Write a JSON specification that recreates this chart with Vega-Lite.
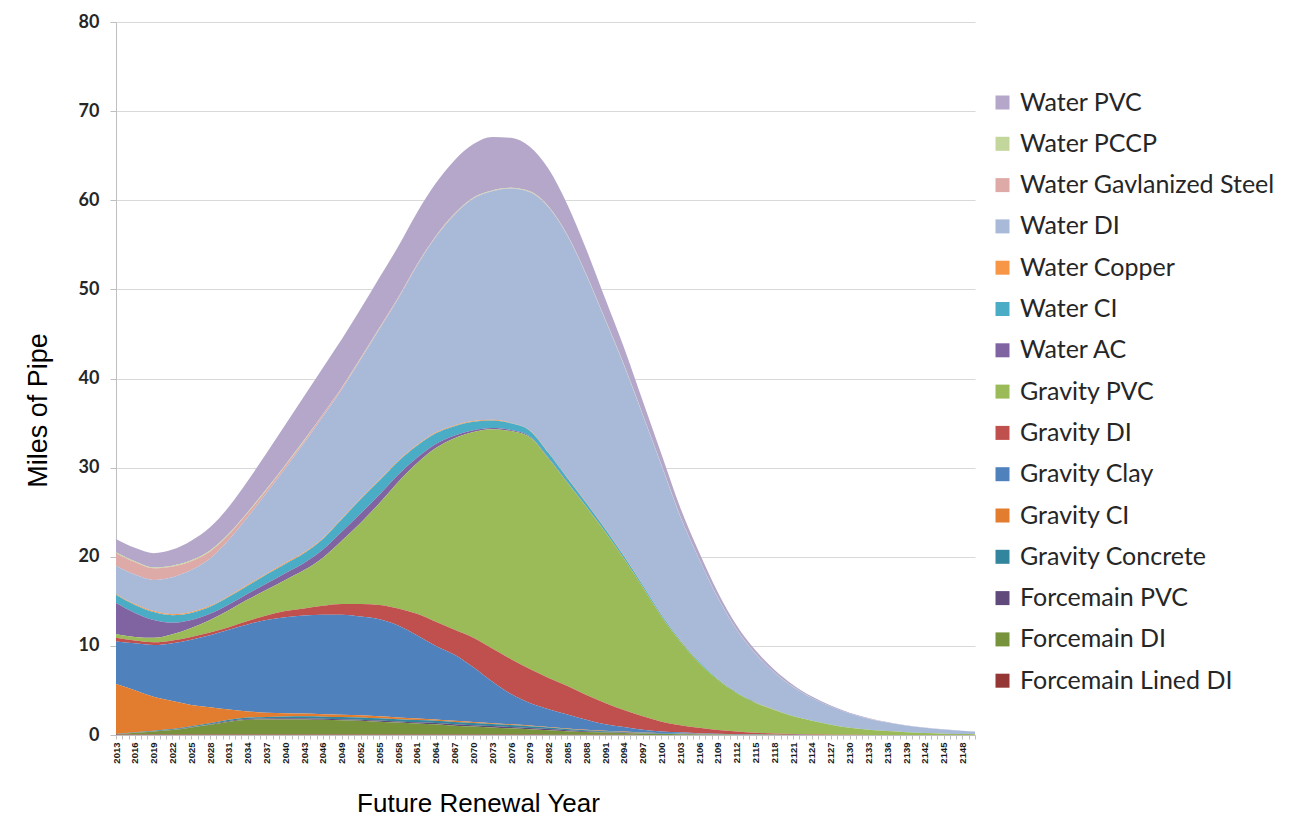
{
  "$schema": "https://vega.github.io/schema/vega-lite/v6.json",
  "width": 859,
  "height": 713,
  "autosize": "none",
  "padding": {"left": 116, "top": 22, "right": 324, "bottom": 90},
  "background": "white",
  "config": {"view": {"stroke": null}},
  "datasets": {
    "order": [
      {"series": "Forcemain Lined DI", "rank": 1},
      {"series": "Forcemain DI", "rank": 2},
      {"series": "Forcemain PVC", "rank": 3},
      {"series": "Gravity Concrete", "rank": 4},
      {"series": "Gravity CI", "rank": 5},
      {"series": "Gravity Clay", "rank": 6},
      {"series": "Gravity DI", "rank": 7},
      {"series": "Gravity PVC", "rank": 8},
      {"series": "Water AC", "rank": 9},
      {"series": "Water CI", "rank": 10},
      {"series": "Water Copper", "rank": 11},
      {"series": "Water DI", "rank": 12},
      {"series": "Water Gavlanized Steel", "rank": 13},
      {"series": "Water PCCP", "rank": 14},
      {"series": "Water PVC", "rank": 15}
    ]
  },
  "data": {"values": [
    {"year":2013,"Water PVC":1.5,"Water PCCP":0.1,"Water Gavlanized Steel":1.4,"Water DI":3.2,"Water Copper":0.1,"Water CI":0.9,"Water AC":3.5,"Gravity PVC":0.4,"Gravity DI":0.4,"Gravity Clay":4.78,"Gravity CI":5.6,"Gravity Concrete":0.05,"Forcemain PVC":0.02,"Forcemain DI":0,"Forcemain Lined DI":0.05},
    {"year":2016,"Water PVC":1.5,"Water PCCP":0.1,"Water Gavlanized Steel":1.4,"Water DI":3.3,"Water Copper":0.1,"Water CI":0.9,"Water AC":2.7,"Gravity PVC":0.4,"Gravity DI":0.3,"Gravity Clay":5.28,"Gravity CI":4.7,"Gravity Concrete":0.05,"Forcemain PVC":0.02,"Forcemain DI":0.2,"Forcemain Lined DI":0.05},
    {"year":2019,"Water PVC":1.6,"Water PCCP":0.1,"Water Gavlanized Steel":1.3,"Water DI":3.5,"Water Copper":0.1,"Water CI":0.9,"Water AC":2.0,"Gravity PVC":0.5,"Gravity DI":0.3,"Gravity Clay":5.81,"Gravity CI":3.8,"Gravity Concrete":0.06,"Forcemain PVC":0.03,"Forcemain DI":0.35,"Forcemain Lined DI":0.05},
    {"year":2022,"Water PVC":1.8,"Water PCCP":0.1,"Water Gavlanized Steel":1.2,"Water DI":4.15,"Water Copper":0.1,"Water CI":0.85,"Water AC":1.3,"Gravity PVC":0.7,"Gravity DI":0.3,"Gravity Clay":6.49,"Gravity CI":3.15,"Gravity Concrete":0.07,"Forcemain PVC":0.04,"Forcemain DI":0.5,"Forcemain Lined DI":0.05},
    {"year":2025,"Water PVC":2.2,"Water PCCP":0.1,"Water Gavlanized Steel":1.0,"Water DI":4.7,"Water Copper":0.1,"Water CI":0.8,"Water AC":0.9,"Gravity PVC":1.0,"Gravity DI":0.3,"Gravity Clay":7.32,"Gravity CI":2.4,"Gravity Concrete":0.08,"Forcemain PVC":0.05,"Forcemain DI":0.8,"Forcemain Lined DI":0.05},
    {"year":2028,"Water PVC":2.6,"Water PCCP":0.1,"Water Gavlanized Steel":0.8,"Water DI":5.3,"Water Copper":0.1,"Water CI":0.8,"Water AC":0.7,"Gravity PVC":1.4,"Gravity DI":0.3,"Gravity Clay":8.09,"Gravity CI":1.8,"Gravity Concrete":0.1,"Forcemain PVC":0.06,"Forcemain DI":1.1,"Forcemain Lined DI":0.05},
    {"year":2031,"Water PVC":3.0,"Water PCCP":0.1,"Water Gavlanized Steel":0.6,"Water DI":6.3,"Water Copper":0.1,"Water CI":0.85,"Water AC":0.65,"Gravity PVC":1.9,"Gravity DI":0.3,"Gravity Clay":8.95,"Gravity CI":1.15,"Gravity Concrete":0.12,"Forcemain PVC":0.08,"Forcemain DI":1.45,"Forcemain Lined DI":0.05},
    {"year":2034,"Water PVC":3.5,"Water PCCP":0.1,"Water Gavlanized Steel":0.45,"Water DI":7.6,"Water Copper":0.1,"Water CI":0.9,"Water AC":0.65,"Gravity PVC":2.4,"Gravity DI":0.4,"Gravity Clay":9.75,"Gravity CI":0.7,"Gravity Concrete":0.15,"Forcemain PVC":0.1,"Forcemain DI":1.65,"Forcemain Lined DI":0.05},
    {"year":2037,"Water PVC":4.0,"Water PCCP":0.1,"Water Gavlanized Steel":0.35,"Water DI":9.05,"Water Copper":0.1,"Water CI":1.0,"Water AC":0.7,"Gravity PVC":2.9,"Gravity DI":0.5,"Gravity Clay":10.4,"Gravity CI":0.47,"Gravity Concrete":0.18,"Forcemain PVC":0.1,"Forcemain DI":1.7,"Forcemain Lined DI":0.05},
    {"year":2040,"Water PVC":4.5,"Water PCCP":0.1,"Water Gavlanized Steel":0.3,"Water DI":10.6,"Water Copper":0.1,"Water CI":1.05,"Water AC":0.75,"Gravity PVC":3.5,"Gravity DI":0.7,"Gravity Clay":10.75,"Gravity CI":0.38,"Gravity Concrete":0.2,"Forcemain PVC":0.12,"Forcemain DI":1.7,"Forcemain Lined DI":0.05},
    {"year":2043,"Water PVC":4.9,"Water PCCP":0.1,"Water Gavlanized Steel":0.25,"Water DI":12.25,"Water Copper":0.1,"Water CI":1.1,"Water AC":0.8,"Gravity PVC":4.3,"Gravity DI":0.8,"Gravity Clay":11.0,"Gravity CI":0.31,"Gravity Concrete":0.22,"Forcemain PVC":0.12,"Forcemain DI":1.7,"Forcemain Lined DI":0.05},
    {"year":2046,"Water PVC":5.2,"Water PCCP":0.05,"Water Gavlanized Steel":0.2,"Water DI":13.67,"Water Copper":0.08,"Water CI":1.2,"Water AC":0.9,"Gravity PVC":5.4,"Gravity DI":1.0,"Gravity Clay":11.16,"Gravity CI":0.28,"Gravity Concrete":0.24,"Forcemain PVC":0.12,"Forcemain DI":1.65,"Forcemain Lined DI":0.05},
    {"year":2049,"Water PVC":5.4,"Water PCCP":0.05,"Water Gavlanized Steel":0.18,"Water DI":14.49,"Water Copper":0.08,"Water CI":1.4,"Water AC":1.0,"Gravity PVC":7.1,"Gravity DI":1.2,"Gravity Clay":11.22,"Gravity CI":0.26,"Gravity Concrete":0.25,"Forcemain PVC":0.12,"Forcemain DI":1.6,"Forcemain Lined DI":0.05},
    {"year":2052,"Water PVC":5.5,"Water PCCP":0.05,"Water Gavlanized Steel":0.15,"Water DI":15.57,"Water Copper":0.08,"Water CI":1.6,"Water AC":1.05,"Gravity PVC":9.1,"Gravity DI":1.4,"Gravity Clay":11.09,"Gravity CI":0.24,"Gravity Concrete":0.25,"Forcemain PVC":0.12,"Forcemain DI":1.55,"Forcemain Lined DI":0.05},
    {"year":2055,"Water PVC":5.6,"Water PCCP":0.05,"Water Gavlanized Steel":0.12,"Water DI":16.9,"Water Copper":0.08,"Water CI":1.6,"Water AC":0.95,"Gravity PVC":11.4,"Gravity DI":1.6,"Gravity Clay":10.91,"Gravity CI":0.22,"Gravity Concrete":0.25,"Forcemain PVC":0.12,"Forcemain DI":1.45,"Forcemain Lined DI":0.05},
    {"year":2058,"Water PVC":5.7,"Water PCCP":0.05,"Water Gavlanized Steel":0.1,"Water DI":18.17,"Water Copper":0.08,"Water CI":1.5,"Water AC":0.8,"Gravity PVC":14.2,"Gravity DI":1.9,"Gravity Clay":10.33,"Gravity CI":0.2,"Gravity Concrete":0.25,"Forcemain PVC":0.12,"Forcemain DI":1.35,"Forcemain Lined DI":0.05},
    {"year":2061,"Water PVC":5.8,"Water PCCP":0.05,"Water Gavlanized Steel":0.09,"Water DI":20.13,"Water Copper":0.08,"Water CI":1.35,"Water AC":0.6,"Gravity PVC":16.9,"Gravity DI":2.4,"Gravity Clay":9.34,"Gravity CI":0.18,"Gravity Concrete":0.25,"Forcemain PVC":0.13,"Forcemain DI":1.25,"Forcemain Lined DI":0.05},
    {"year":2064,"Water PVC":5.9,"Water PCCP":0.05,"Water Gavlanized Steel":0.08,"Water DI":21.94,"Water Copper":0.08,"Water CI":1.2,"Water AC":0.45,"Gravity PVC":19.5,"Gravity DI":2.7,"Gravity Clay":8.25,"Gravity CI":0.16,"Gravity Concrete":0.25,"Forcemain PVC":0.14,"Forcemain DI":1.15,"Forcemain Lined DI":0.05},
    {"year":2067,"Water PVC":6.0,"Water PCCP":0.05,"Water Gavlanized Steel":0.07,"Water DI":23.65,"Water Copper":0.08,"Water CI":1.05,"Water AC":0.3,"Gravity PVC":21.5,"Gravity DI":2.8,"Gravity Clay":7.41,"Gravity CI":0.14,"Gravity Concrete":0.25,"Forcemain PVC":0.15,"Forcemain DI":1.0,"Forcemain Lined DI":0.05},
    {"year":2070,"Water PVC":6.0,"Water PCCP":0.05,"Water Gavlanized Steel":0.06,"Water DI":24.96,"Water Copper":0.08,"Water CI":0.95,"Water AC":0.2,"Gravity PVC":23.1,"Gravity DI":3.3,"Gravity Clay":6.14,"Gravity CI":0.12,"Gravity Concrete":0.24,"Forcemain PVC":0.15,"Forcemain DI":0.9,"Forcemain Lined DI":0.05},
    {"year":2073,"Water PVC":6.0,"Water PCCP":0.05,"Water Gavlanized Steel":0.05,"Water DI":25.62,"Water Copper":0.08,"Water CI":0.85,"Water AC":0.15,"Gravity PVC":24.6,"Gravity DI":3.7,"Gravity Clay":4.67,"Gravity CI":0.1,"Gravity Concrete":0.23,"Forcemain PVC":0.15,"Forcemain DI":0.8,"Forcemain Lined DI":0.05},
    {"year":2076,"Water PVC":5.6,"Water PCCP":0.05,"Water Gavlanized Steel":0.04,"Water DI":26.29,"Water Copper":0.05,"Water CI":0.75,"Water AC":0.12,"Gravity PVC":25.6,"Gravity DI":3.9,"Gravity Clay":3.4,"Gravity CI":0.09,"Gravity Concrete":0.22,"Forcemain PVC":0.14,"Forcemain DI":0.7,"Forcemain Lined DI":0.05},
    {"year":2079,"Water PVC":5.0,"Water PCCP":0.05,"Water Gavlanized Steel":0.04,"Water DI":26.71,"Water Copper":0.05,"Water CI":0.65,"Water AC":0.1,"Gravity PVC":26.0,"Gravity DI":3.8,"Gravity Clay":2.54,"Gravity CI":0.08,"Gravity Concrete":0.2,"Forcemain PVC":0.13,"Forcemain DI":0.6,"Forcemain Lined DI":0.05},
    {"year":2082,"Water PVC":4.2,"Water PCCP":0.05,"Water Gavlanized Steel":0.04,"Water DI":27.53,"Water Copper":0.05,"Water CI":0.55,"Water AC":0.08,"Gravity PVC":24.6,"Gravity DI":3.5,"Gravity Clay":1.99,"Gravity CI":0.07,"Gravity Concrete":0.18,"Forcemain PVC":0.12,"Forcemain DI":0.5,"Forcemain Lined DI":0.04},
    {"year":2085,"Water PVC":3.4,"Water PCCP":0.05,"Water Gavlanized Steel":0.03,"Water DI":27.16,"Water Copper":0.05,"Water CI":0.45,"Water AC":0.06,"Gravity PVC":22.8,"Gravity DI":3.2,"Gravity Clay":1.56,"Gravity CI":0.06,"Gravity Concrete":0.15,"Forcemain PVC":0.1,"Forcemain DI":0.4,"Forcemain Lined DI":0.03},
    {"year":2088,"Water PVC":2.8,"Water PCCP":0.05,"Water Gavlanized Steel":0.03,"Water DI":25.54,"Water Copper":0.05,"Water CI":0.38,"Water AC":0.05,"Gravity PVC":21.1,"Gravity DI":2.8,"Gravity Clay":1.12,"Gravity CI":0.05,"Gravity Concrete":0.12,"Forcemain PVC":0.08,"Forcemain DI":0.3,"Forcemain Lined DI":0.03},
    {"year":2091,"Water PVC":2.3,"Water PCCP":0.05,"Water Gavlanized Steel":0.03,"Water DI":23.43,"Water Copper":0.05,"Water CI":0.3,"Water AC":0.04,"Gravity PVC":19.2,"Gravity DI":2.4,"Gravity Clay":0.73,"Gravity CI":0.04,"Gravity Concrete":0.1,"Forcemain PVC":0.06,"Forcemain DI":0.25,"Forcemain Lined DI":0.02},
    {"year":2094,"Water PVC":1.9,"Water PCCP":0.05,"Water Gavlanized Steel":0.03,"Water DI":21.39,"Water Copper":0.05,"Water CI":0.25,"Water AC":0.03,"Gravity PVC":17.0,"Gravity DI":1.9,"Gravity Clay":0.52,"Gravity CI":0.03,"Gravity Concrete":0.08,"Forcemain PVC":0.05,"Forcemain DI":0.2,"Forcemain Lined DI":0.02},
    {"year":2097,"Water PVC":1.5,"Water PCCP":0.05,"Water Gavlanized Steel":0.02,"Water DI":19.06,"Water Copper":0.05,"Water CI":0.2,"Water AC":0.02,"Gravity PVC":14.5,"Gravity DI":1.5,"Gravity Clay":0.32,"Gravity CI":0.02,"Gravity Concrete":0.06,"Forcemain PVC":0.04,"Forcemain DI":0.15,"Forcemain Lined DI":0.01},
    {"year":2100,"Water PVC":1.2,"Water PCCP":0.05,"Water Gavlanized Steel":0.02,"Water DI":16.7,"Water Copper":0.05,"Water CI":0.16,"Water AC":0.02,"Gravity PVC":11.8,"Gravity DI":1.1,"Gravity Clay":0.19,"Gravity CI":0.02,"Gravity Concrete":0.05,"Forcemain PVC":0.03,"Forcemain DI":0.1,"Forcemain Lined DI":0.01},
    {"year":2103,"Water PVC":0.95,"Water PCCP":0.05,"Water Gavlanized Steel":0.02,"Water DI":13.8,"Water Copper":0.05,"Water CI":0.12,"Water AC":0.01,"Gravity PVC":9.4,"Gravity DI":0.8,"Gravity Clay":0.14,"Gravity CI":0.01,"Gravity Concrete":0.04,"Forcemain PVC":0.02,"Forcemain DI":0.08,"Forcemain Lined DI":0.01},
    {"year":2106,"Water PVC":0.75,"Water PCCP":0.02,"Water Gavlanized Steel":0.01,"Water DI":11.49,"Water Copper":0.02,"Water CI":0.1,"Water AC":0.01,"Gravity PVC":7.3,"Gravity DI":0.6,"Gravity Clay":0.07,"Gravity CI":0.01,"Gravity Concrete":0.03,"Forcemain PVC":0.02,"Forcemain DI":0.06,"Forcemain Lined DI":0.01},
    {"year":2109,"Water PVC":0.6,"Water PCCP":0.02,"Water Gavlanized Steel":0.01,"Water DI":9.06,"Water Copper":0.02,"Water CI":0.08,"Water AC":0.01,"Gravity PVC":5.65,"Gravity DI":0.41,"Gravity Clay":0.05,"Gravity CI":0.01,"Gravity Concrete":0.02,"Forcemain PVC":0.01,"Forcemain DI":0.04,"Forcemain Lined DI":0.01},
    {"year":2112,"Water PVC":0.45,"Water PCCP":0.02,"Water Gavlanized Steel":0.01,"Water DI":7.04,"Water Copper":0.02,"Water CI":0.06,"Water AC":0,"Gravity PVC":4.32,"Gravity DI":0.27,"Gravity Clay":0.04,"Gravity CI":0,"Gravity Concrete":0.02,"Forcemain PVC":0.01,"Forcemain DI":0.03,"Forcemain Lined DI":0.01},
    {"year":2115,"Water PVC":0.35,"Water PCCP":0.01,"Water Gavlanized Steel":0.01,"Water DI":5.46,"Water Copper":0.02,"Water CI":0.05,"Water AC":0,"Gravity PVC":3.35,"Gravity DI":0.17,"Gravity Clay":0.03,"Gravity CI":0,"Gravity Concrete":0.01,"Forcemain PVC":0.01,"Forcemain DI":0.02,"Forcemain Lined DI":0.01},
    {"year":2118,"Water PVC":0.27,"Water PCCP":0.01,"Water Gavlanized Steel":0.01,"Water DI":4.16,"Water Copper":0.02,"Water CI":0.04,"Water AC":0,"Gravity PVC":2.64,"Gravity DI":0.11,"Gravity Clay":0.02,"Gravity CI":0,"Gravity Concrete":0.01,"Forcemain PVC":0,"Forcemain DI":0.02,"Forcemain Lined DI":0},
    {"year":2121,"Water PVC":0.2,"Water PCCP":0.01,"Water Gavlanized Steel":0.01,"Water DI":3.24,"Water Copper":0.01,"Water CI":0.03,"Water AC":0,"Gravity PVC":2.0,"Gravity DI":0.08,"Gravity Clay":0.01,"Gravity CI":0,"Gravity Concrete":0,"Forcemain PVC":0,"Forcemain DI":0.01,"Forcemain Lined DI":0},
    {"year":2124,"Water PVC":0.15,"Water PCCP":0,"Water Gavlanized Steel":0.01,"Water DI":2.52,"Water Copper":0.01,"Water CI":0.02,"Water AC":0,"Gravity PVC":1.54,"Gravity DI":0.05,"Gravity Clay":0,"Gravity CI":0,"Gravity Concrete":0,"Forcemain PVC":0,"Forcemain DI":0.01,"Forcemain Lined DI":0},
    {"year":2127,"Water PVC":0.11,"Water PCCP":0,"Water Gavlanized Steel":0.01,"Water DI":2.01,"Water Copper":0.01,"Water CI":0.02,"Water AC":0,"Gravity PVC":1.11,"Gravity DI":0.03,"Gravity Clay":0,"Gravity CI":0,"Gravity Concrete":0,"Forcemain PVC":0,"Forcemain DI":0.01,"Forcemain Lined DI":0},
    {"year":2130,"Water PVC":0.08,"Water PCCP":0,"Water Gavlanized Steel":0.01,"Water DI":1.6,"Water Copper":0,"Water CI":0.01,"Water AC":0,"Gravity PVC":0.78,"Gravity DI":0.02,"Gravity Clay":0,"Gravity CI":0,"Gravity Concrete":0,"Forcemain PVC":0,"Forcemain DI":0,"Forcemain Lined DI":0},
    {"year":2133,"Water PVC":0.06,"Water PCCP":0,"Water Gavlanized Steel":0.01,"Water DI":1.22,"Water Copper":0,"Water CI":0.01,"Water AC":0,"Gravity PVC":0.59,"Gravity DI":0.01,"Gravity Clay":0,"Gravity CI":0,"Gravity Concrete":0,"Forcemain PVC":0,"Forcemain DI":0,"Forcemain Lined DI":0},
    {"year":2136,"Water PVC":0.05,"Water PCCP":0,"Water Gavlanized Steel":0,"Water DI":0.94,"Water Copper":0,"Water CI":0.01,"Water AC":0,"Gravity PVC":0.45,"Gravity DI":0,"Gravity Clay":0,"Gravity CI":0,"Gravity Concrete":0,"Forcemain PVC":0,"Forcemain DI":0,"Forcemain Lined DI":0},
    {"year":2139,"Water PVC":0.04,"Water PCCP":0,"Water Gavlanized Steel":0,"Water DI":0.73,"Water Copper":0,"Water CI":0.01,"Water AC":0,"Gravity PVC":0.32,"Gravity DI":0,"Gravity Clay":0,"Gravity CI":0,"Gravity Concrete":0,"Forcemain PVC":0,"Forcemain DI":0,"Forcemain Lined DI":0},
    {"year":2142,"Water PVC":0.03,"Water PCCP":0,"Water Gavlanized Steel":0,"Water DI":0.59,"Water Copper":0,"Water CI":0,"Water AC":0,"Gravity PVC":0.22,"Gravity DI":0,"Gravity Clay":0,"Gravity CI":0,"Gravity Concrete":0,"Forcemain PVC":0,"Forcemain DI":0,"Forcemain Lined DI":0},
    {"year":2145,"Water PVC":0.02,"Water PCCP":0,"Water Gavlanized Steel":0,"Water DI":0.47,"Water Copper":0,"Water CI":0,"Water AC":0,"Gravity PVC":0.15,"Gravity DI":0,"Gravity Clay":0,"Gravity CI":0,"Gravity Concrete":0,"Forcemain PVC":0,"Forcemain DI":0,"Forcemain Lined DI":0},
    {"year":2148,"Water PVC":0.02,"Water PCCP":0,"Water Gavlanized Steel":0,"Water DI":0.37,"Water Copper":0,"Water CI":0,"Water AC":0,"Gravity PVC":0.1,"Gravity DI":0,"Gravity Clay":0,"Gravity CI":0,"Gravity Concrete":0,"Forcemain PVC":0,"Forcemain DI":0,"Forcemain Lined DI":0},
    {"year":2150,"Water PVC":0.01,"Water PCCP":0,"Water Gavlanized Steel":0,"Water DI":0.3,"Water Copper":0,"Water CI":0,"Water AC":0,"Gravity PVC":0.08,"Gravity DI":0,"Gravity Clay":0,"Gravity CI":0,"Gravity Concrete":0,"Forcemain PVC":0,"Forcemain DI":0,"Forcemain Lined DI":0}
  ]},
  "transform": [
    {"fold": ["Water PVC","Water PCCP","Water Gavlanized Steel","Water DI","Water Copper","Water CI","Water AC","Gravity PVC","Gravity DI","Gravity Clay","Gravity CI","Gravity Concrete","Forcemain PVC","Forcemain DI","Forcemain Lined DI"], "as": ["series", "miles"]},
    {"lookup": "series", "from": {"data": {"name": "order"}, "key": "series", "fields": ["rank"]}}
  ],
  "mark": {"type": "area", "interpolate": "monotone"},
  "encoding": {
    "x": {
      "field": "year", "type": "quantitative",
      "scale": {"domain": [2013, 2150], "nice": false, "zero": false},
      "axis": {
        "title": "Future Renewal Year",
        "tickCount": 137,
        "labelExpr": "(datum.value - 2013) % 3 === 0 ? datum.value : ''",
        "labelAngle": -90, "labelAlign": "right", "labelBaseline": "middle",
        "labelFont": "Liberation Sans", "labelFontWeight": "bold", "labelFontSize": 9.5, "labelColor": "#1a1a1a",
        "labelOverlap": false, "labelFlush": false, "labelPadding": 3,
        "tickSize": 4, "tickColor": "#BFBFBF", "domainColor": "#BFBFBF", "grid": false,
        "titleFont": "Liberation Sans", "titleFontSize": 26, "titleFontWeight": "normal", "titleColor": "#000000",
        "titleX": 362, "titleY": 68, "titleAlign": "center", "titleBaseline": "middle"
      }
    },
    "y": {
      "field": "miles", "type": "quantitative", "stack": "zero",
      "scale": {"domain": [0, 80], "nice": false},
      "axis": {
        "title": "Miles of Pipe",
        "values": [0, 10, 20, 30, 40, 50, 60, 70, 80],
        "labelFont": "Lato", "labelFontWeight": "bold", "labelFontSize": 18, "labelColor": "#262626", "labelPadding": 11,
        "tickSize": 6, "tickColor": "#BFBFBF", "domainColor": "#BFBFBF", "gridColor": "#D9D9D9",
        "titleFont": "Liberation Sans", "titleFontSize": 27, "titleFontWeight": "normal", "titleColor": "#000000",
        "titleX": -78, "titleY": 388, "titleAngle": -90, "titleAlign": "center", "titleBaseline": "middle"
      }
    },
    "color": {
      "field": "series", "type": "nominal",
      "scale": {
        "domain": ["Water PVC","Water PCCP","Water Gavlanized Steel","Water DI","Water Copper","Water CI","Water AC","Gravity PVC","Gravity DI","Gravity Clay","Gravity CI","Gravity Concrete","Forcemain PVC","Forcemain DI","Forcemain Lined DI"],
        "range": ["#B5A7C9","#C3D69B","#DDAAA8","#A9B9D8","#F79646","#4BACC6","#8064A2","#9BBB59","#C0504D","#4F81BD","#E27D30","#31859C","#604A7B","#77933C","#953735"]
      },
      "legend": {
        "orient": "none", "legendX": 874, "legendY": 68, "title": null, "padding": 0,
        "labelFont": "Lato", "labelFontSize": 25, "labelColor": "#262626", "labelLimit": 400,
        "symbolType": "square", "symbolSize": 196, "symbolStrokeWidth": 0, "symbolOpacity": 1,
        "rowPadding": 15.3, "labelOffset": 5
      }
    },
    "order": {"field": "rank", "type": "quantitative"}
  }
}
